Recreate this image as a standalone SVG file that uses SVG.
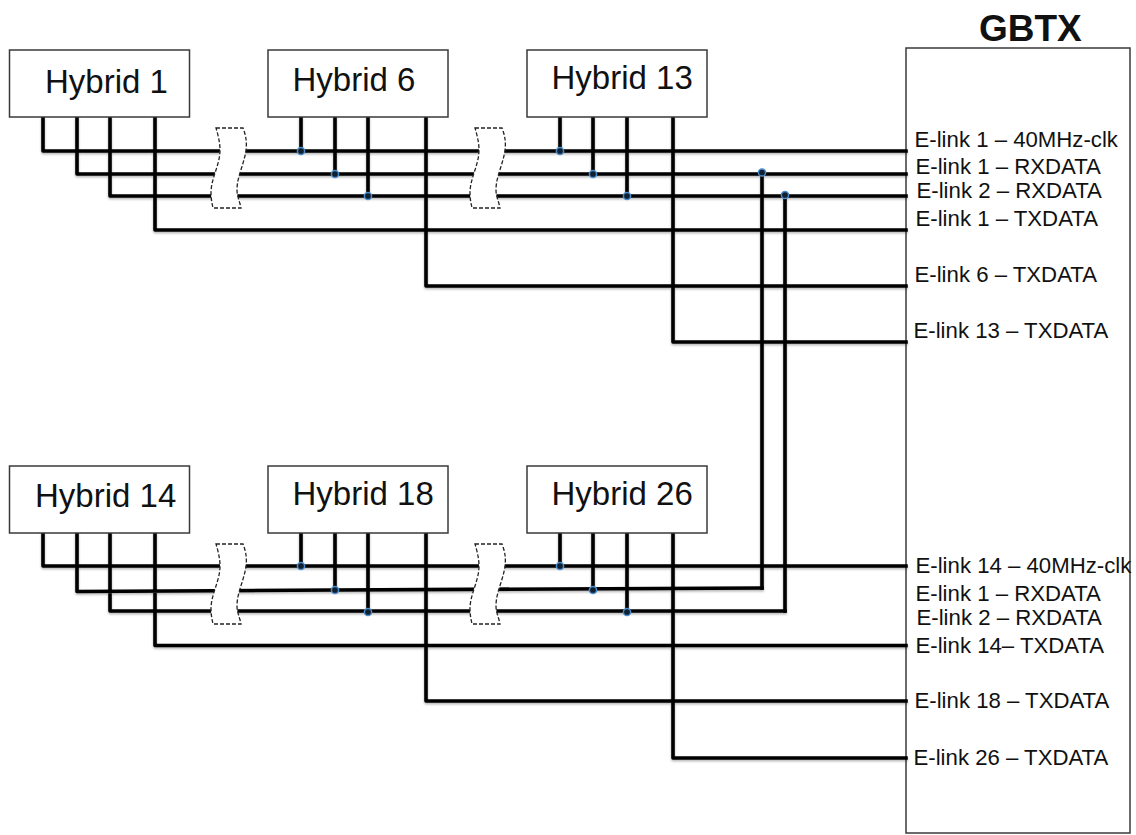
<svg xmlns="http://www.w3.org/2000/svg" width="1136" height="835" viewBox="0 0 1136 835">
<style>
text{font-family:"Liberation Sans",Arial,sans-serif;fill:#111}
.box{fill:#fff;stroke:#3a3a3a;stroke-width:1.5}
.h{font-size:33px}
.e{font-size:22.200px}
.w{fill:none;stroke:#000;stroke-width:3.6;stroke-linejoin:round;stroke-linecap:square}
.brk{fill:#fff;stroke:#222;stroke-width:1.3;stroke-dasharray:4 2}
.dot{fill:#10202e;stroke:#4a8ccb;stroke-width:1.500}
</style>
<defs>
<filter id="sh" x="-5%" y="-5%" width="110%" height="110%"><feDropShadow dx="0" dy="1.5" stdDeviation="1" flood-color="#000" flood-opacity="0.3"/></filter>
<path id="break" d="M216 128H243C246 136 247 142 246 150C244 165 237 176 237 190C237 197 240 202 241 208H213C212 203 211 199 211 193C211 178 220 165 220 150C220 142 218 135 216 128Z"/>
</defs>
<g id="gbtx">
<rect class="box" x="906" y="48" width="224" height="785"/>
<text x="979" y="40.500" font-weight="bold" style="font-size:37px">GBTX</text>
</g>
<g id="connectors" filter="url(#sh)">
<path class="w" d="M43 118V151H906M77 118V174H906M110 118V196H906M155 118V230H906"/>
<path class="w" d="M301 118V151M335 118V174M368 118V196M426 118V286H906"/>
<path class="w" d="M560 118V151M593 118V174M627 118V196M673 118V342H906"/>
<path class="w" d="M762 174V588M785 196V611"/>
<path class="w" d="M43 533V566H906M77 533V591.500L335 590L762 588M110 533V611H785M155 533V645.500H906"/>
<path class="w" d="M301 533V566M335 533V590M368 533V611M426 533V701H906"/>
<path class="w" d="M560 533V566M593 533V589M627 533V611M673 533V758H906"/>
</g>
<g id="breaks">
<use href="#break" class="brk"/>
<use href="#break" class="brk" x="259"/>
<use href="#break" class="brk" y="416"/>
<use href="#break" class="brk" x="259" y="416"/>
</g>
<g id="junctions">
<circle class="dot" r="3.600" cx="301" cy="151"/><circle class="dot" r="3.600" cx="335" cy="174"/><circle class="dot" r="3.600" cx="368" cy="196"/>
<circle class="dot" r="3.600" cx="560" cy="151"/><circle class="dot" r="3.600" cx="593" cy="174"/><circle class="dot" r="3.600" cx="627" cy="196"/>
<circle class="dot" r="3.600" cx="762" cy="172.500"/><circle class="dot" r="3.600" cx="785" cy="195"/>
<circle class="dot" r="3.600" cx="301" cy="566"/><circle class="dot" r="3.600" cx="335" cy="590"/><circle class="dot" r="3.600" cx="368" cy="612"/>
<circle class="dot" r="3.600" cx="560" cy="566"/><circle class="dot" r="3.600" cx="593" cy="590"/><circle class="dot" r="3.600" cx="627" cy="612"/>
</g>
<g id="hybrid-1"><rect class="box" x="9.500" y="50" width="180" height="67"/><text class="h" x="45" y="92.500">Hybrid 1</text></g>
<g id="hybrid-6"><rect class="box" x="268" y="50" width="180" height="67"/><text class="h" x="292.500" y="90.500">Hybrid 6</text></g>
<g id="hybrid-13"><rect class="box" x="527" y="50" width="180" height="67"/><text class="h" x="551.500" y="88.500">Hybrid 13</text></g>
<g id="hybrid-14"><rect class="box" x="9.500" y="466" width="180" height="67"/><text class="h" x="35" y="507">Hybrid 14</text></g>
<g id="hybrid-18"><rect class="box" x="268" y="466" width="180" height="67"/><text class="h" x="292.500" y="505">Hybrid 18</text></g>
<g id="hybrid-26"><rect class="box" x="527" y="466" width="180" height="67"/><text class="h" x="551.500" y="505">Hybrid 26</text></g>
<g id="labels">
<text class="e" x="914.500" y="146.500">E-link 1 – 40MHz-clk</text>
<text class="e" x="915.500" y="173.500">E-link 1 – RXDATA</text>
<text class="e" x="916.500" y="197.500">E-link 2 – RXDATA</text>
<text class="e" x="915.500" y="226">E-link 1 – TXDATA</text>
<text class="e" x="914.500" y="281.500">E-link 6 – TXDATA</text>
<text class="e" x="913.500" y="337.500">E-link 13 – TXDATA</text>
<text class="e" x="915.500" y="573">E-link 14 – 40MHz-clk</text>
<text class="e" x="915.500" y="600.500">E-link 1 – RXDATA</text>
<text class="e" x="916.500" y="624.500">E-link 2 – RXDATA</text>
<text class="e" x="915.500" y="652.500">E-link 14– TXDATA</text>
<text class="e" x="914.500" y="708">E-link 18 – TXDATA</text>
<text class="e" x="913.500" y="764.500">E-link 26 – TXDATA</text>
</g>
</svg>
